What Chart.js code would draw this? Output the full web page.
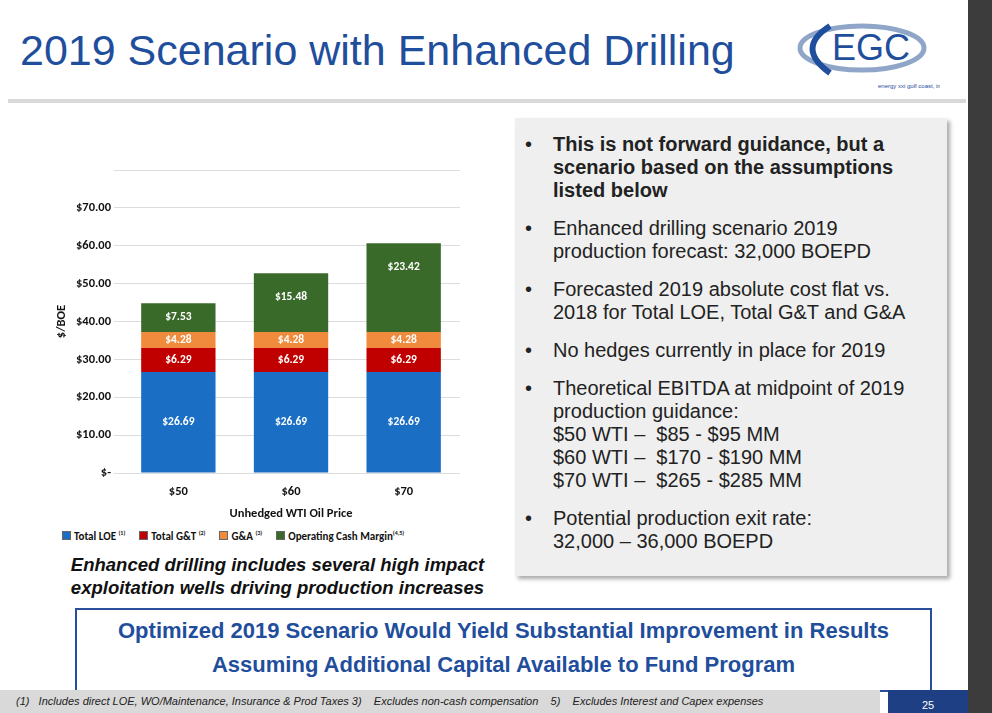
<!DOCTYPE html>
<html><head><meta charset="utf-8">
<script src="https://cdn.jsdelivr.net/npm/chart.js@4"></script>
<style>
body{margin:0;width:992px;height:713px;overflow:hidden;background:#fff;font-family:"Liberation Sans",Arial,sans-serif;position:relative}
#side{position:absolute;left:968px;top:0;width:24px;height:713px;background:#3c3c3c}
h1{position:absolute;left:20px;top:26px;margin:0;font-weight:normal;font-size:43px;color:#1f4e9c}
#rule{position:absolute;left:8px;top:99px;width:958px;height:4px;background:#d9d9d9}
#logo{position:absolute;left:790px;top:18px;width:150px;height:72px}
#panel{position:absolute;left:515px;top:118px;width:432px;height:458px;background:#efefef;box-shadow:3px 3px 4px #aaa}
#panel ul{margin:0;padding:0 18px 0 38px;list-style:none;font-size:20px;color:#222}
#panel li{position:relative;margin-top:15px;line-height:23px}
#panel li:before{content:"•";position:absolute;left:-28px}
#cap{position:absolute;left:55px;top:553px;width:445px;text-align:center;font-weight:bold;font-style:italic;font-size:18.5px;line-height:23px;color:#111}
#box{position:absolute;left:75px;top:608px;width:853px;height:76px;border:2px solid #2a4f9a;text-align:center;color:#1f4e9c;font-weight:bold;font-size:22px;line-height:34px;padding-top:4px}
#foot{position:absolute;left:0;top:690px;width:880px;height:23px;background:#d9d9d9;font-style:italic;font-size:11px;padding-left:16px;line-height:23px;color:#222;box-sizing:border-box}
#pg{position:absolute;left:888px;top:690px;width:80px;height:23px;background:#1f3f85;color:#fff;font-size:11px;text-align:center;line-height:30px}
#legend{position:absolute;left:62px;top:529px;font-family:Carlito,"Liberation Sans",sans-serif;font-weight:bold;font-size:11px;color:#111;white-space:nowrap}
#legend span{margin-right:14px}
#legend i{display:inline-block;width:7px;height:7px;margin-right:3px;border:1px solid #666}
sup{font-size:6px}
</style></head><body>
<div id="side"></div>
<h1>2019 Scenario with Enhanced Drilling</h1>
<div id="rule"></div>
<svg id="logo" viewBox="0 0 150 72">
<ellipse cx="72" cy="30" rx="62" ry="22" fill="none" stroke="#8fa6c8" stroke-width="5"/>
<path d="M40 8 Q5 30 40 55" fill="none" stroke="#1f4e9c" stroke-width="6"/>
<text x="42" y="42" font-size="36" fill="#1f4e9c" font-family="Liberation Sans">EGC</text>
<text x="88" y="70" font-size="6" fill="#1f4e9c">energy xxi gulf coast, inc.</text>
</svg>
<div style="position:absolute;left:50px;top:150px;width:410px;height:375px"><canvas id="c"></canvas></div>
<div id="legend"><span><i style="background:#1a6fc4"></i>Total LOE <sup>(1)</sup></span><span><i style="background:#c00000"></i>Total G&amp;T <sup>(2)</sup></span><span><i style="background:#f08a3c"></i>G&amp;A <sup>(3)</sup></span><span><i style="background:#3a6a2a"></i>Operating Cash Margin<sup>(4,5)</sup></span></div>
<div id="cap">Enhanced drilling includes several high impact<br>exploitation wells driving production increases</div>
<div id="panel"><ul>
<li><b>This is not forward guidance, but a scenario based on the assumptions listed below</b></li>
<li>Enhanced drilling scenario 2019 production forecast: 32,000 BOEPD</li>
<li>Forecasted 2019 absolute cost flat vs. 2018 for Total LOE, Total G&amp;T and G&amp;A</li>
<li>No hedges currently in place for 2019</li>
<li>Theoretical EBITDA at midpoint of 2019 production guidance:<br>$50 WTI –&nbsp; $85 - $95 MM<br>$60 WTI –&nbsp; $170 - $190 MM<br>$70 WTI –&nbsp; $265 - $285 MM</li>
<li>Potential production exit rate:<br>32,000 – 36,000 BOEPD</li>
</ul></div>
<div id="box">Optimized 2019 Scenario Would Yield Substantial Improvement in Results<br>Assuming Additional Capital Available to Fund Program</div>
<div id="foot">(1)&nbsp;&nbsp; Includes direct LOE, WO/Maintenance, Insurance &amp; Prod Taxes 3)&nbsp;&nbsp;&nbsp; Excludes non-cash compensation&nbsp;&nbsp;&nbsp; 5)&nbsp;&nbsp;&nbsp; Excludes Interest and Capex expenses</div>
<div id="pg">25</div>
<script>
var categories = ['$50', '$60', '$70'];
var totalLoe = [26.69, 26.69, 26.69];
var totalGT = [6.29, 6.29, 6.29];
var gAndA = [4.28, 4.28, 4.28];
var cashMargin = [7.53, 15.48, 23.42];

var lbl = {
  id: 'lbl',
  afterDatasetsDraw: function (chart) {
    var ctx = chart.ctx;
    ctx.save();
    ctx.fillStyle = '#fff';
    ctx.font = 'bold 11.5px Carlito, "Liberation Sans", sans-serif';
    ctx.textAlign = 'center';
    ctx.textBaseline = 'middle';
    chart.data.datasets.forEach(function (ds, i) {
      chart.getDatasetMeta(i).data.forEach(function (bar, j) {
        var y = (bar.y + bar.base) / 2;
        if (i == 3) y = Math.min(bar.y + 24, y);
        ctx.fillText('$' + ds.data[j].toFixed(2), bar.x, y);
      });
    });
    ctx.restore();
  }
};

var f = { weight: 'bold', size: 12.5, family: 'Carlito, "Liberation Sans"' };
new Chart(document.getElementById('c'), {
  type: 'bar',
  data: {
    labels: categories,
    datasets: [
      { label: 'Total LOE', data: totalLoe, backgroundColor: '#1a6fc4' },
      { label: 'Total G&T', data: totalGT, backgroundColor: '#c00000' },
      { label: 'G&A', data: gAndA, backgroundColor: '#f08a3c' },
      { label: 'Operating Cash Margin', data: cashMargin, backgroundColor: '#3a6a2a' }
    ]
  },
  options: {
    responsive: true,
    maintainAspectRatio: false,
    animation: false,
    layout: { padding: { top: 20, right: 0 } },
    datasets: { bar: { barPercentage: 0.66, categoryPercentage: 1 } },
    plugins: { legend: { display: false }, tooltip: { enabled: false } },
    scales: {
      x: {
        stacked: true,
        grid: { display: false },
        border: { display: false },
        ticks: { color: '#111', font: f },
        title: { display: true, text: 'Unhedged WTI Oil Price', color: '#111', font: f }
      },
      y: {
        stacked: true,
        min: 0, max: 80,
        ticks: {
          stepSize: 10, color: '#111', font: f,
          callback: function (v) { return v === 0 ? '$-' : (v > 70 ? '' : '$' + v.toFixed(2)); }
        },
        grid: { color: '#dcdcdc' },
        border: { display: false },
        title: { display: true, text: '$/BOE', color: '#111', font: f }
      }
    }
  },
  plugins: [lbl]
});
</script>
</body></html>
